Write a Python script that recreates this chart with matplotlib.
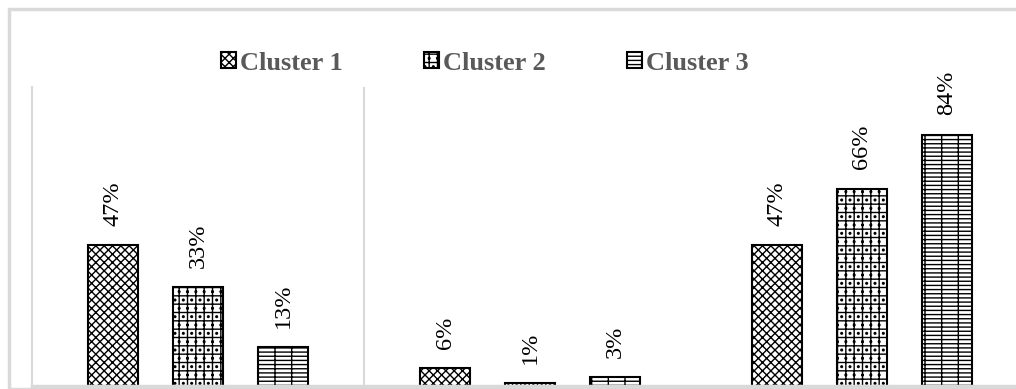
import matplotlib.pyplot as plt
import matplotlib.patches as mpatches
import numpy as np

plt.rcParams['font.family'] = ['Liberation Serif', 'DejaVu Serif']
plt.rcParams['hatch.linewidth'] = 1.0

groups = ['A', 'B', 'C']
series = ['Cluster 1', 'Cluster 2', 'Cluster 3']
cluster1 = [47, 6, 47]
cluster2 = [33, 1, 66]
cluster3 = [13, 3, 84]
hatches = ['xxxx', '++..', '---+']

fig = plt.figure(figsize=(10.16, 3.89), dpi=100)
# outer light frame
fig.patches.append(mpatches.Rectangle((9 / 1016, 0), 1.2, 1 - 9 / 389, transform=fig.transFigure,
                                      fill=False, edgecolor='#d9d9d9', linewidth=2.5))

ax = fig.add_axes([32 / 1016, 3 / 389, 996 / 1016, 299 / 389])
x = np.arange(len(groups))
w = 0.15
off = 0.256
for i, (vals, h) in enumerate(zip([cluster1, cluster2, cluster3], hatches)):
    bars = ax.bar(x + (i - 1) * off, vals, w, color='white', edgecolor='black',
                  hatch=h, linewidth=1.5, label=series[i])
    for b, v in zip(bars, vals):
        ax.annotate(f'{v}%', (b.get_x() + b.get_width() / 2, v), xytext=(0, 14),
                    textcoords='offset points', rotation=90, ha='center', va='bottom',
                    fontsize=17.5)

ax.set_xlim(-0.5, 2.5)
ax.set_ylim(0, 100)
ax.set_xticks([])
ax.set_yticks([])
for s in ['top', 'right']:
    ax.spines[s].set_visible(False)
ax.spines['left'].set_color('#d9d9d9')
ax.spines['left'].set_linewidth(1.5)
ax.spines['bottom'].set_color('#d9d9d9')
ax.spines['bottom'].set_linewidth(2.5)
ax.axvline(0.5, color='#d9d9d9', linewidth=1.5)

leg = fig.legend(loc='center', bbox_to_anchor=(485 / 1016, 1 - 63 / 389), ncol=3, frameon=False,
                 prop={'weight': 'bold', 'size': 19}, handlelength=0.55, handleheight=0.55,
                 handletextpad=0.15, columnspacing=3.1, labelcolor='#595959')

fig.savefig('out.png', dpi=100)
